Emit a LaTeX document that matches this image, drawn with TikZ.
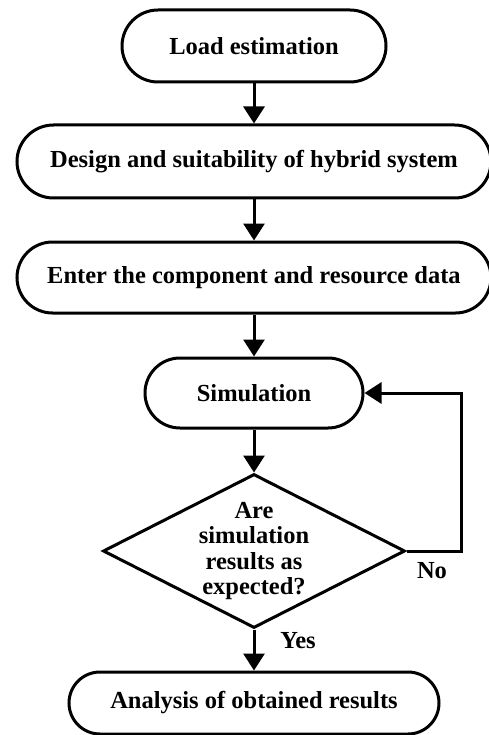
\documentclass[tikz,border=0pt]{standalone}
\usepackage{fontspec}
\setmainfont{Liberation Serif}
\usetikzlibrary{shapes.misc,shapes.geometric,arrows.meta}
\begin{document}
\begin{tikzpicture}[x=1pt,y=-1pt,
  term/.style={rounded rectangle, draw, line width=3pt, inner sep=0pt,
    font=\fontsize{24.5}{28}\selectfont\bfseries},
  decide/.style={diamond, draw, line width=3pt, inner sep=-3pt, aspect=2,
    align=center, font=\fontsize{24.5}{25.5}\selectfont\bfseries},
  flow/.style={line width=3pt, -{Triangle[length=17pt,width=21pt]}},
  lbl/.style={font=\fontsize{24.5}{28}\selectfont\bfseries}]
\useasboundingbox (0,0) rectangle (489,735);

\node[term, minimum width=264pt, minimum height=72pt] (load) at (254,46) {Load estimation};
\node[term, minimum width=474pt, minimum height=73pt] (design) at (254,161.5) {Design and suitability of hybrid system};
\node[term, minimum width=474pt, minimum height=71pt] (enter) at (254,277.5) {Enter the component and resource data};
\node[term, minimum width=218pt, minimum height=70pt] (sim) at (254,393) {Simulation};
\node[decide, minimum width=302pt, minimum height=154pt] (check) at (254,551)
  {Are\\simulation\\results as\\expected?};
\node[term, minimum width=370pt, minimum height=62pt] (result) at (254,703) {Analysis of obtained results};

% vertical flow down the centre line
\draw[flow] (load.south) -- (load.south |- design.north);
\draw[flow] (design.south -| load.south) -- (load.south |- enter.north);
\draw[flow] (enter.south -| load.south) -- (sim.north);
\draw[flow] (sim.south) -- (check.north);
\draw[flow] (check.south) -- (result.north);
% loop back when the results are not as expected
\draw[flow] (check.east) -- ++(55,0) |- (sim.east);

\node[lbl] (no) at (432,571) {No};
\node[lbl] (yes) at (298,641) {Yes};
\end{tikzpicture}
\end{document}
